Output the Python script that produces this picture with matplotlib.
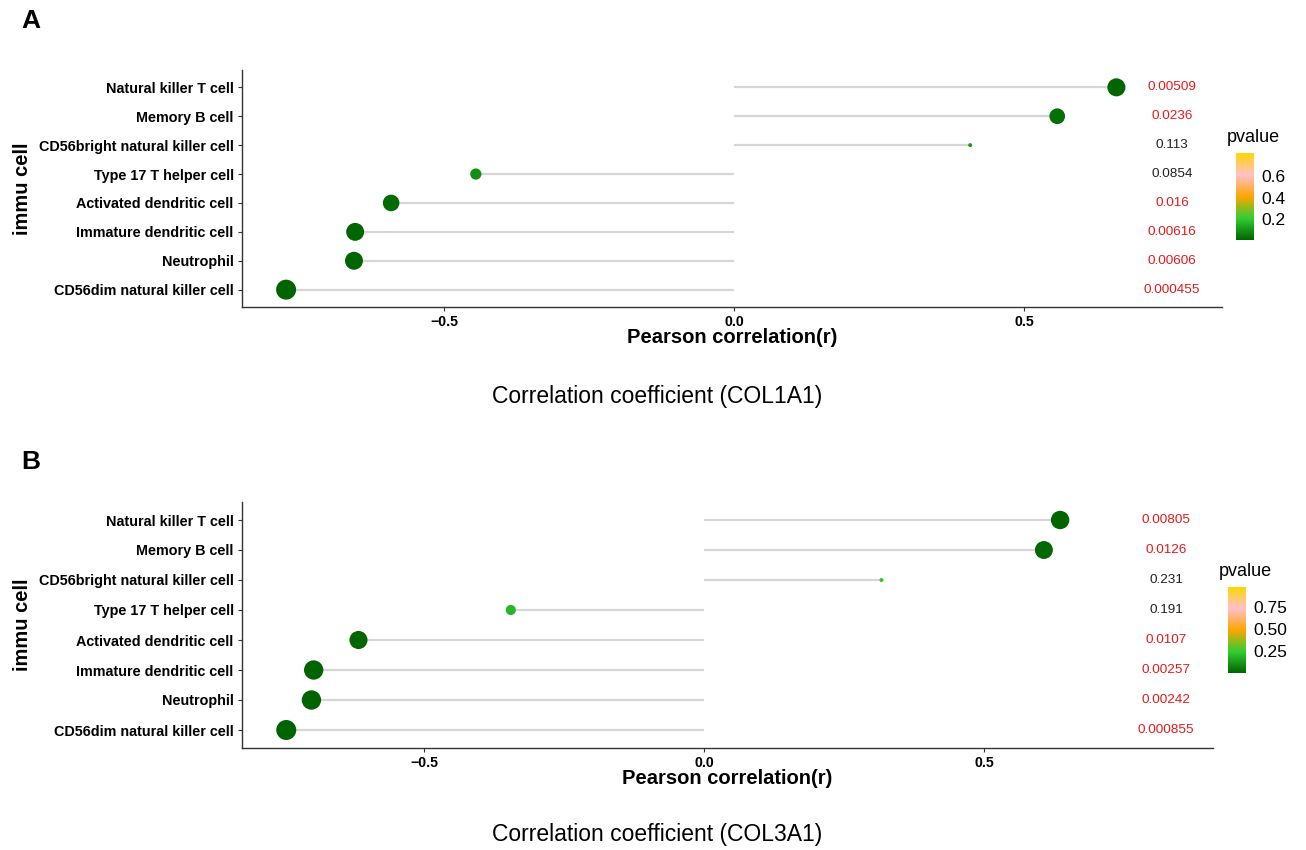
import numpy as np
import matplotlib
matplotlib.use('Agg')
import matplotlib.pyplot as plt
from matplotlib.colors import LinearSegmentedColormap, Normalize

plt.rcParams['font.family'] = ['Liberation Sans', 'DejaVu Sans']

cells = ['Natural killer T cell', 'Memory B cell', 'CD56bright natural killer cell',
         'Type 17 T helper cell', 'Activated dendritic cell', 'Immature dendritic cell',
         'Neutrophil', 'CD56dim natural killer cell']

# panel A (COL1A1)
r_a = [0.659, 0.557, 0.407, -0.445, -0.591, -0.653, -0.655, -0.772]
p_a = ['0.00509', '0.0236', '0.113', '0.0854', '0.016', '0.00616', '0.00606', '0.000455']
prange_a = (0.000455, 0.82)
ticks_a = [0.2, 0.4, 0.6]

# panel B (COL3A1)
r_b = [0.636, 0.607, 0.317, -0.345, -0.617, -0.697, -0.701, -0.746]
p_b = ['0.00805', '0.0126', '0.231', '0.191', '0.0107', '0.00257', '0.00242', '0.000855']
prange_b = (0.000855, 0.97)
ticks_b = [0.25, 0.50, 0.75]

cmap = LinearSegmentedColormap.from_list('pv', ['darkgreen', 'limegreen', 'orange', 'pink', 'gold'])

fig = plt.figure(figsize=(13.06, 8.5), dpi=100)


def panel(rect, r, p, prange, ticks, fmt, xlim, label_x, cbar_rect, title, title_y, letter, letter_y):
    ax = fig.add_axes(rect)
    r = np.array(r)
    pv = np.array([float(s) for s in p])
    y = np.arange(len(r))[::-1] + 1
    norm = Normalize(*prange)
    ax.hlines(y, 0, r, color='#d6d6d6', lw=1.6, zorder=1)
    a = np.abs(r)
    t = (a - a.min()) / (a.max() - a.min())
    d = 4 + 16 * t ** 0.35
    ax.scatter(r, y, s=(d * 0.72) ** 2, c=cmap(norm(pv)), edgecolors='none', zorder=2)
    for yi, s, v in zip(y, p, pv):
        ax.text(label_x, yi, s, ha='center', va='center', fontsize=9.7,
                color='#e31a1c' if v < 0.05 else '#222222')
    ax.set_xlim(*xlim)
    ax.set_ylim(0.4, len(r) + 0.6)
    ax.set_yticks(y)
    ax.set_yticklabels(cells, fontsize=10.4, fontweight='bold')
    ax.set_xticks([-0.5, 0.0, 0.5])
    ax.set_xticklabels(['\u22120.5', '0.0', '0.5'], fontsize=10.2, fontweight='bold')
    ax.set_xlabel('Pearson correlation(r)', fontsize=14.5, fontweight='bold', labelpad=-1)
    ax.set_ylabel('immu cell', fontsize=14.5, fontweight='bold', labelpad=5)
    for side in ['top', 'right']:
        ax.spines[side].set_visible(False)
    for side in ['left', 'bottom']:
        ax.spines[side].set_color('#333333')
        ax.spines[side].set_linewidth(1.0)
    ax.tick_params(length=3, width=0.8, color='#333333', pad=3)

    cax = fig.add_axes(cbar_rect)
    sm = plt.cm.ScalarMappable(norm=norm, cmap=cmap)
    cb = fig.colorbar(sm, cax=cax, ticks=ticks)
    cb.outline.set_visible(False)
    cb.ax.tick_params(length=3, color='white', labelsize=12.5, pad=2)
    cb.ax.set_yticklabels([fmt % v for v in ticks])
    cax.set_title('pvalue', fontsize=13, loc='left', pad=8, x=-0.5)

    fig.text(0.503, title_y, title, ha='center', va='center', fontsize=16.5)
    fig.text(0.016, letter_y, letter, ha='left', va='center', fontsize=19, fontweight='bold')
    return ax


panel([242 / 1306, 1 - 307 / 850, 980 / 1306, 237 / 850], r_a, p_a, prange_a, ticks_a, '%.1f',
      (-0.848, 0.841), 0.755, [1236 / 1306, 1 - 240 / 850, 18 / 1306, 87 / 850],
      'Correlation coefficient (COL1A1)', 1 - 397 / 850, 'A', 1 - 21 / 850)

panel([242 / 1306, 1 - 748 / 850, 971 / 1306, 246 / 850], r_b, p_b, prange_b, ticks_b, '%.2f',
      (-0.825, 0.909), 0.825, [1228 / 1306, 1 - 673 / 850, 18 / 1306, 86 / 850],
      'Correlation coefficient (COL3A1)', 1 - 835 / 850, 'B', 1 - 462 / 850)

fig.savefig('out.png', dpi=100, facecolor='white')
